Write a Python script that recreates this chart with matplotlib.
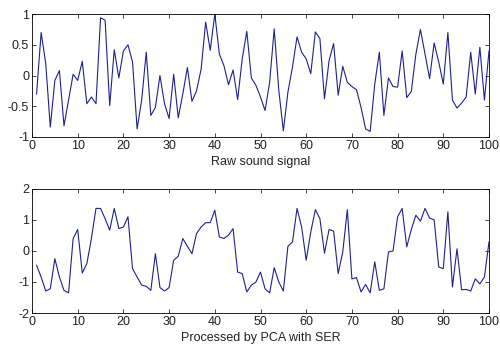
import numpy as np
import matplotlib.pyplot as plt

plt.rcParams["font.family"] = ["Liberation Sans", "DejaVu Sans"]

samples = np.arange(1, 101)

raw_signal = [
    -0.30, 0.70, 0.20, -0.84, -0.08, 0.08, -0.82, -0.40, 0.02, -0.08,
    0.23, -0.46, -0.35, -0.46, 0.94, 0.90, -0.49, 0.42, -0.04, 0.40,
    0.50, 0.22, -0.87, -0.40, 0.38, -0.65, -0.52, 0.00, -0.46, -0.70,
    0.02, -0.69, -0.30, 0.13, -0.42, -0.25, 0.10, 0.87, 0.41, 1.00,
    0.35, 0.16, -0.15, 0.09, -0.39, 0.27, 0.72, -0.04, -0.16, -0.35,
    -0.57, -0.11, 0.76, -0.24, -0.90, -0.27, 0.14, 0.63, 0.38, 0.27,
    0.03, 0.71, 0.60, -0.38, 0.24, 0.52, -0.32, 0.15, -0.11, -0.18,
    -0.23, -0.52, -0.87, -0.91, -0.14, 0.38, -0.65, -0.04, -0.18, -0.19,
    0.40, -0.36, -0.26, 0.35, 0.75, 0.35, -0.05, 0.53, 0.22, -0.14,
    0.70, -0.40, -0.53, -0.45, -0.35, 0.38, -0.30, 0.46, -0.40, 0.40,
]

pca_signal = [
    -0.46, -0.84, -1.29, -1.22, -0.25, -0.84, -1.27, -1.35, 0.40, 0.69,
    -0.71, -0.41, 0.40, 1.37, 1.37, 1.04, 0.67, 1.37, 0.72, 0.77,
    1.10, -0.57, -0.84, -1.10, -1.14, -1.27, -0.09, -1.18, -1.29, -1.18,
    -0.30, -0.17, 0.40, 0.15, -0.09, 0.56, 0.77, 0.91, 0.91, 1.31,
    0.45, 0.40, 0.51, 0.72, -0.68, -0.73, -1.32, -1.10, -1.00, -0.68,
    -1.22, -1.35, -0.54, -1.00, -1.29, 0.15, 0.29, 1.37, 0.77, -0.30,
    0.61, 1.33, 1.04, -0.07, 0.69, 0.64, -0.73, -0.03, 1.33, -0.90,
    -0.86, -1.32, -1.08, -1.35, -0.35, -1.27, -1.22, -0.03, 0.00, 1.10,
    1.37, 0.13, 0.69, 1.15, 0.96, 1.37, 1.06, 1.00, -0.52, -0.57,
    1.26, -1.16, 0.07, -1.25, -1.24, -1.29, -0.90, -1.06, -0.84, 0.29,
]

line_color = "#20208f"
fs = 9

fig = plt.figure(figsize=(5.0, 3.44), dpi=100)
ax1 = fig.add_axes([0.064, 0.602, 0.914, 0.357])
ax2 = fig.add_axes([0.064, 0.090, 0.914, 0.361])

for ax, ys, ylim, yticks, label in [
    (ax1, raw_signal, (-1, 1), [-1, -0.5, 0, 0.5, 1], "Raw sound signal"),
    (ax2, pca_signal, (-2, 2), [-2, -1, 0, 1, 2], "Processed by PCA with SER"),
]:
    ax.plot(samples, ys, color=line_color, linewidth=0.8)
    ax.set_xlim(0, 100)
    ax.set_ylim(*ylim)
    ax.set_xticks(np.arange(0, 101, 10))
    ax.set_yticks(yticks)
    ax.set_yticklabels([f"{t:g}" for t in yticks])
    ax.tick_params(direction="in", top=True, right=True, length=3,
                   labelsize=fs, pad=2, width=0.6, colors="#222222")
    ax.set_xlabel(label, fontsize=fs, labelpad=3, color="#222222")
    for spine in ax.spines.values():
        spine.set_linewidth(0.6)

fig.savefig("out.png", dpi=100)
